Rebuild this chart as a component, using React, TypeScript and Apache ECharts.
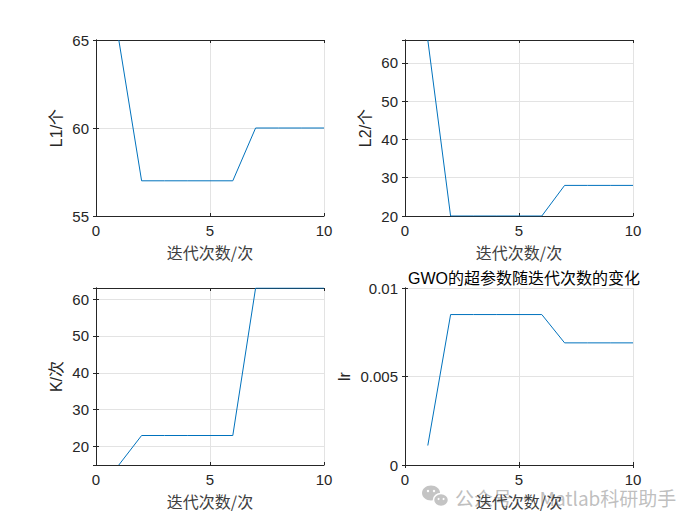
import React, { useEffect, useRef } from "react";
import * as echarts from "echarts";

const iterations = [1, 2, 3, 4, 5, 6, 7, 8, 9, 10];
const l1Values = [65, 57, 57, 57, 57, 57, 60, 60, 60, 60];
const l2Values = [66, 20, 20, 20, 20, 20, 28, 28, 28, 28];
const kValues = [15, 23, 23, 23, 23, 23, 63, 63, 63, 63];
const lrValues = [0.0011, 0.0085, 0.0085, 0.0085, 0.0085, 0.0085, 0.0069, 0.0069, 0.0069, 0.0069];

const xLabel = "迭代次数/次";
const yLabels = ["L1/个", "L2/个", "K/次", "lr"];
const titleText = "GWO的超参数随迭代次数的变化";
const watermark = "公众号 · Matlab科研助手";

const LINE = "#0072BD";
const AX = "#262626";
const GRIDC = "#e3e3e3";
const SANS = "Liberation Sans, Arial, Noto Sans CJK SC, sans-serif";
const CJK = "Noto Sans CJK SC, sans-serif";

export default function App() {
  const ref = useRef<HTMLDivElement>(null);
  useEffect(() => {
    if (!ref.current) return;
    const chart = echarts.init(ref.current, undefined, { renderer: "svg" });
    const grids = [
      { left: 96, top: 40, width: 228, height: 176 },
      { left: 405, top: 40, width: 228, height: 176 },
      { left: 96, top: 288, width: 228, height: 177 },
      { left: 405, top: 288, width: 228, height: 177 },
    ];
    const yCfg: any[] = [
      { min: 55, max: 65, interval: 5, gap: 32 },
      { min: 20, max: 66, splitNumber: 5, gap: 32, fmt10: true },
      { min: 15, max: 63, splitNumber: 5, gap: 32, fmt10: true },
      { min: 0, max: 0.01, interval: 0.005, gap: 53 },
    ];
    const datasets = [l1Values, l2Values, kValues, lrValues];

    const xAxis: any[] = [];
    const yAxis: any[] = [];
    const series: any[] = [];
    grids.forEach((g, i) => {
      const base = {
        gridIndex: i,
        type: "value",
        axisLine: { show: true, lineStyle: { color: AX, width: 1 } },
        axisTick: { show: true, inside: true, length: 3, lineStyle: { color: AX } },
      };
      xAxis.push({
        ...base,
        position: "bottom",
        min: 0,
        max: 10,
        interval: 5,
        name: xLabel,
        nameLocation: "middle",
        nameGap: 28,
        nameTextStyle: { fontFamily: CJK, fontSize: 16, color: "#404040" },
        axisLabel: { color: AX, fontSize: 15, fontFamily: SANS, margin: 7 },
        splitLine: { show: true, lineStyle: { color: GRIDC, width: 1 } },
      });
      xAxis.push({
        ...base,
        position: "top",
        min: 0,
        max: 10,
        interval: 5,
        axisLabel: { show: false },
        splitLine: { show: false },
      });
      const yc = yCfg[i];
      const yBase: any = { min: yc.min, max: yc.max };
      if (yc.interval != null) yBase.interval = yc.interval;
      if (yc.splitNumber != null) yBase.splitNumber = yc.splitNumber;
      yAxis.push({
        ...base,
        ...yBase,
        position: "left",
        name: yLabels[i],
        nameLocation: "middle",
        nameGap: yc.gap,
        nameRotate: 90,
        nameTextStyle: { fontFamily: SANS, fontSize: 16, color: AX },
        axisLabel: {
          color: AX,
          fontSize: 15,
          fontFamily: SANS,
          margin: 7,
          formatter: yc.fmt10
            ? (v: number) => (Math.abs(v % 10) < 1e-9 ? String(v) : "")
            : undefined,
        },
        splitLine: { show: true, lineStyle: { color: GRIDC, width: 1 } },
      });
      yAxis.push({
        ...base,
        ...yBase,
        position: "right",
        axisLabel: { show: false },
        splitLine: { show: false },
      });
      series.push({
        type: "line",
        xAxisIndex: i * 2,
        yAxisIndex: i * 2,
        data: iterations.map((x, k) => [x, datasets[i][k]]),
        showSymbol: false,
        symbol: "none",
        lineStyle: { color: LINE, width: 1 },
        clip: true,
      });
    });

    chart.setOption({
      animation: false,
      backgroundColor: "#ffffff",
      title: {
        text: titleText,
        left: 519,
        top: 265,
        textAlign: "center",
        textStyle: { fontFamily: SANS, fontSize: 16, fontWeight: "normal", color: "#000" },
      },
      grid: grids.map((g) => ({ ...g, show: false })),
      xAxis,
      yAxis,
      series,
      graphic: [
        {
          type: "group",
          silent: true,
          children: [
            { type: "ellipse", shape: { cx: 431, cy: 493, rx: 9, ry: 7.5 }, style: { fill: "#c4c4c4" } },
            { type: "ellipse", shape: { cx: 441, cy: 500, rx: 7.5, ry: 6.5 }, style: { fill: "#c4c4c4", stroke: "#fff", lineWidth: 1.5 } },
            { type: "circle", shape: { cx: 428, cy: 491, r: 1.2 }, style: { fill: "#fff" } },
            { type: "circle", shape: { cx: 434, cy: 491, r: 1.2 }, style: { fill: "#fff" } },
            { type: "circle", shape: { cx: 438.5, cy: 499, r: 1 }, style: { fill: "#fff" } },
            { type: "circle", shape: { cx: 443.5, cy: 499, r: 1 }, style: { fill: "#fff" } },
            {
              type: "text",
              x: 455,
              y: 497,
              style: {
                text: watermark,
                fontFamily: CJK,
                fontSize: 19,
                fill: "rgba(170,170,170,0.75)",
                verticalAlign: "middle",
                align: "left",
              },
            },
          ],
        },
      ],
    });
    return () => chart.dispose();
  }, []);
  return (
    <div
      ref={ref}
      style={{ position: "absolute", left: 0, top: 0, width: 700, height: 525 }}
    />
  );
}
